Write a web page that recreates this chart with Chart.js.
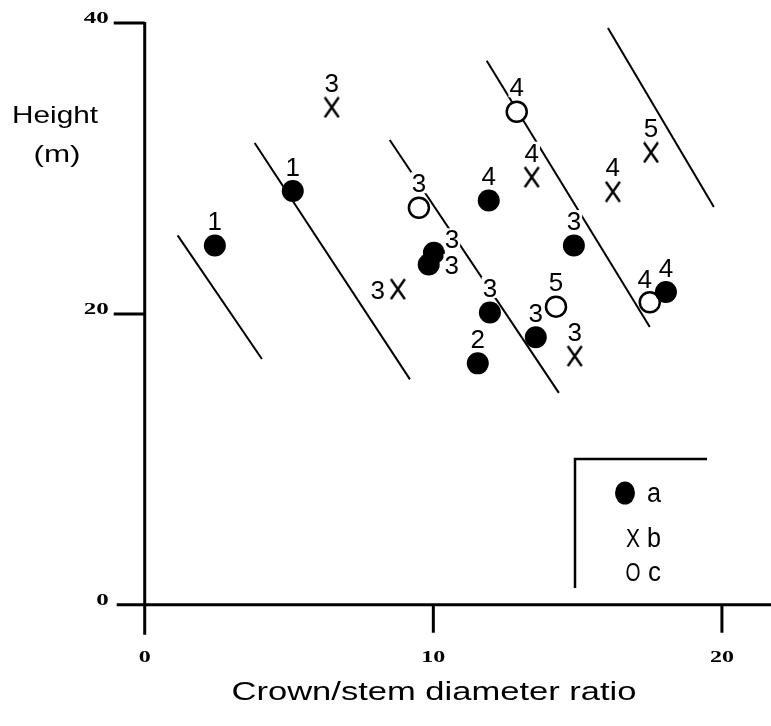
<!DOCTYPE html>
<html>
<head>
<meta charset="utf-8">
<script src="https://cdn.jsdelivr.net/npm/chart.js@4.4.0/dist/chart.umd.min.js"></script>
<style>
  html, body { margin: 0; padding: 0; background: #fff; }
  canvas { display: block; }
</style>
</head>
<body>
<canvas id="chart" width="771" height="726"></canvas>
<script>
// crown/stem diameter ratio (x) against height in m (y), count printed by each mark
const groupAX = [2.43, 5.13, 10.02, 9.84, 11.92, 14.87, 11.96, 11.54, 13.55, 18.06];
const groupAY = [24.7, 28.45, 24.2, 23.4, 27.8, 24.7, 20.1, 16.6, 18.4, 21.5];
const groupACount = ['1', '1', '3', '3', '4', '3', '3', '2', '3', '4'];

const groupBX = [6.48, 8.77, 13.41, 16.22, 17.54, 14.9];
const groupBY = [34.2, 21.7, 29.4, 28.4, 31.1, 17.1];
const groupBCount = ['3', '3', '4', '4', '5', '3'];

const groupCX = [12.89, 9.5, 14.25, 17.5];
const groupCY = [33.9, 27.3, 20.5, 20.8];
const groupCCount = ['4', '3', '5', '4'];

// side of the mark that each count is written on
const groupASide = ['top', 'top', 'upRight', 'right', 'top', 'top', 'top', 'top', 'top', 'top'];
const groupBSide = ['top', 'left', 'top', 'top', 'top', 'top'];
const groupCSide = ['top', 'top', 'top', 'upLeft'];

// sloping guide lines, one segment each
const isoStartX = [1.14, 3.81, 8.49, 11.85, 16.05];
const isoStartY = [25.4, 31.75, 31.96, 37.4, 39.66];
const isoEndX = [4.06, 9.19, 14.35, 17.5, 19.72];
const isoEndY = [16.9, 15.5, 14.57, 19.1, 27.35];

const xTicks = [0, 10, 20];
const yTicks = [0, 20, 40];

const toPoints = (xs, ys) => xs.map((x, i) => ({ x: x, y: ys[i] }));

// the "X" marks are taller than wide, so draw them on a small canvas
const crossMark = document.createElement('canvas');
crossMark.width = 18;
crossMark.height = 22;
(function () {
    const c = crossMark.getContext('2d');
    c.strokeStyle = '#000';
    c.lineWidth = 2.4;
    c.beginPath();
    c.moveTo(2, 1); c.lineTo(16, 21);
    c.moveTo(16, 1); c.lineTo(2, 21);
    c.stroke();
})();

const SANS = '"Liberation Sans", Arial, Helvetica, sans-serif';
const SERIF = '"Liberation Serif", "Times New Roman", serif';

function drawText(ctx, str, x, y, font, align, width) {
    ctx.save();
    ctx.font = font;
    ctx.textAlign = align;
    ctx.textBaseline = 'alphabetic';
    const natural = ctx.measureText(str).width;
    ctx.translate(x, y);
    if (width) ctx.scale(width / natural, 1);
    ctx.fillStyle = '#000';
    ctx.fillText(str, 0, 0);
    ctx.restore();
}

const sideOffset = {
    top: [0, -25],
    left: [-20, 0],
    right: [23, 0],
    upRight: [18, -14],
    upLeft: [-5, -24],
};

const datasets = [
    {
        label: 'a',
        data: toPoints(groupAX, groupAY),
        counts: groupACount,
        sides: groupASide,
        pointStyle: 'circle',
        pointRadius: 11,
        backgroundColor: '#000',
        borderWidth: 0,
    },
    {
        label: 'b',
        data: toPoints(groupBX, groupBY),
        counts: groupBCount,
        sides: groupBSide,
        pointStyle: crossMark,
        pointRadius: 10,
    },
    {
        label: 'c',
        data: toPoints(groupCX, groupCY),
        counts: groupCCount,
        sides: groupCSide,
        pointStyle: 'circle',
        pointRadius: 10,
        backgroundColor: '#fff',
        borderColor: '#000',
        borderWidth: 2.5,
    },
];

isoStartX.forEach((sx, i) => {
    datasets.push({
        label: 'iso' + i,
        data: [{ x: sx, y: isoStartY[i] }, { x: isoEndX[i], y: isoEndY[i] }],
        showLine: true,
        borderColor: '#000',
        borderWidth: 2,
        pointRadius: 0,
    });
});

const framePlugin = {
    id: 'frame',
    beforeDatasetsDraw(chart) {
        const { ctx, scales: { x, y } } = chart;
        const x0 = x.getPixelForValue(0);
        const y0 = y.getPixelForValue(0);
        ctx.save();
        ctx.strokeStyle = '#000';
        ctx.lineWidth = 3;
        ctx.beginPath();
        ctx.moveTo(x0, y.getPixelForValue(40) - 1);
        ctx.lineTo(x0, y0 + 30);
        ctx.moveTo(x0 - 28, y0);
        ctx.lineTo(chart.width, y0);
        yTicks.forEach((v) => {
            if (v === 0) return;
            const p = y.getPixelForValue(v);
            ctx.moveTo(x0 - 31, p);
            ctx.lineTo(x0, p);
        });
        xTicks.forEach((v) => {
            if (v === 0) return;
            const p = x.getPixelForValue(v);
            ctx.moveTo(p, y0);
            ctx.lineTo(p, y0 + 28);
        });
        ctx.stroke();
        ctx.restore();

        // tick labels
        yTicks.forEach((v) => {
            const p = y.getPixelForValue(v);
            drawText(ctx, String(v), x0 - 36, p, 'bold 17px ' + SERIF, 'right', String(v).length * 12.5);
        });
        xTicks.forEach((v) => {
            const p = x.getPixelForValue(v);
            drawText(ctx, String(v), p, y0 + 57, 'bold 17px ' + SERIF, 'center', String(v).length * 12);
        });

        // axis titles
        drawText(ctx, 'Height', 55, 123, '24px ' + SANS, 'center', 86);
        drawText(ctx, '(m)', 57, 162, '24px ' + SANS, 'center', 47);
        drawText(ctx, 'Crown/stem diameter ratio', 434, 700, '26px ' + SANS, 'center', 405);

        // key
        ctx.save();
        ctx.strokeStyle = '#000';
        ctx.lineWidth = 2.5;
        ctx.beginPath();
        ctx.moveTo(575, 588);
        ctx.lineTo(575, 459);
        ctx.lineTo(707, 459);
        ctx.stroke();
        ctx.beginPath();
        ctx.ellipse(625, 493, 10, 11.5, 0, 0, Math.PI * 2);
        ctx.fillStyle = '#000';
        ctx.fill();
        ctx.restore();
        drawText(ctx, 'a', 647, 502, '27px ' + SANS, 'left', 14);
        drawText(ctx, 'X', 633, 547, '25px ' + SANS, 'center', 14);
        drawText(ctx, 'b', 647, 547, '27px ' + SANS, 'left', 14);
        drawText(ctx, 'O', 633, 581, '25px ' + SANS, 'center', 15);
        drawText(ctx, 'c', 648, 581, '27px ' + SANS, 'left', 13);
    },
    afterDatasetsDraw(chart) {
        const { ctx, scales: { x, y } } = chart;
        ctx.save();
        ctx.font = '26px ' + SANS;
        chart.data.datasets.forEach((ds) => {
            if (!ds.counts) return;
            ds.data.forEach((pt, i) => {
                const off = sideOffset[ds.sides[i]];
                const cx = x.getPixelForValue(pt.x) + off[0];
                const cy = y.getPixelForValue(pt.y) + off[1];
                const w = ctx.measureText(ds.counts[i]).width;
                ctx.fillStyle = '#fff';
                ctx.fillRect(cx - w / 2 - 1, cy - 10.5, w + 2, 21);
                ctx.fillStyle = '#000';
                ctx.textAlign = 'center';
                ctx.textBaseline = 'alphabetic';
                ctx.fillText(ds.counts[i], cx, cy + 9.5);
            });
        });
        ctx.restore();
    },
};

new Chart(document.getElementById('chart'), {
    type: 'scatter',
    data: { datasets: datasets },
    options: {
        responsive: false,
        animation: false,
        devicePixelRatio: 1,
        layout: {
            autoPadding: false,
            padding: { left: 87, right: 0, top: 23, bottom: 63 },
        },
        scales: {
            x: { type: 'linear', min: -2, max: 21.7, display: false },
            y: { type: 'linear', min: -4, max: 40, display: false },
        },
        plugins: {
            legend: { display: false },
            tooltip: { enabled: false },
        },
        events: [],
    },
    plugins: [framePlugin],
});
</script>
</body>
</html>
